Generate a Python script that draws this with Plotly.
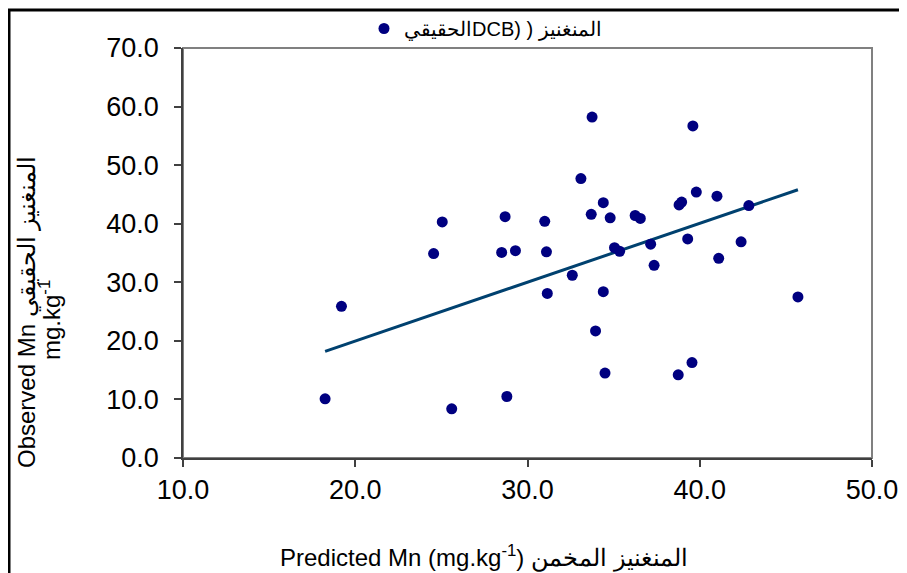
import plotly.graph_objects as go

# Observed vs predicted Mn values
predicted = [18.25, 19.2, 25.05, 24.55, 25.6, 28.7, 28.5, 29.3, 28.8,
             33.75, 39.6, 33.1, 34.4, 31.0, 33.7, 34.8, 36.25, 36.55, 38.8,
             38.95, 39.8, 41.0, 42.85, 31.1, 32.6, 35.05, 35.35, 37.15, 37.35,
             39.3, 41.1, 42.4, 31.15, 34.4, 45.7, 33.95, 34.5, 38.75, 39.55]
observed = [10.1, 25.9, 40.3, 34.9, 8.4, 41.2, 35.1, 35.4, 10.5,
            58.2, 56.7, 47.7, 43.6, 40.4, 41.6, 41.0, 41.4, 40.9, 43.2,
            43.7, 45.4, 44.7, 43.1, 35.2, 31.2, 35.9, 35.3, 36.5, 32.9,
            37.4, 34.1, 36.9, 28.1, 28.4, 27.5, 21.7, 14.5, 14.2, 16.3]

trend_x = [18.25, 45.7]
trend_y = [18.2, 45.8]

# RLM + RLE ... PDF: label laid out right-to-left as in the original
legend_name = "\u200f\u202bالمنغنيز ( (DCBالحقيقي\u202c"
x_title = "Predicted Mn (mg.kg<sup>-1</sup>\u200e) المنغنيز المخمن"
y_title_1 = "Observed Mn المنغنيز الحقيقي"
y_title_2 = "mg.kg<sup>-1</sup>"

# page body has an 8px margin: figure coordinates = window coordinates - 8
OFF = 8
W, H = 907 - OFF, 573 - OFF
L, R, T, B = 183 - OFF, 872 - OFF, 48 - OFF, 458 - OFF


def px(xw):
    return (xw - OFF - L) / (R - L)


def py(yw):
    return (B - (yw - OFF)) / (B - T)


FONT = "Liberation Sans, Arial, sans-serif"

fig = go.Figure()
fig.add_trace(go.Scatter(
    x=trend_x, y=trend_y, mode="lines",
    line=dict(color="#00416f", width=3), showlegend=False, hoverinfo="skip"))
fig.add_trace(go.Scatter(
    x=predicted, y=observed, mode="markers", name=legend_name,
    marker=dict(color="#000080", size=11, line=dict(width=0))))

fig.update_layout(
    width=W, height=H,
    margin=dict(l=L, r=W - R, t=T, b=H - B, autoexpand=False),
    paper_bgcolor="white", plot_bgcolor="white",
    font=dict(family=FONT, color="black"),
    legend=dict(orientation="h", x=px(364), y=py(9), xanchor="left", yanchor="top",
                itemwidth=30,
                font=dict(size=20, family=FONT), bgcolor="rgba(0,0,0,0)"),
    xaxis=dict(range=[10, 50], dtick=10, tick0=10, tickformat=".1f",
               showgrid=False, zeroline=False, showline=True, linecolor="#404040", linewidth=1.5,
               ticks="outside", ticklen=7, tickcolor="#404040", tickwidth=1.5,
               tickfont=dict(size=27, family=FONT, color="black")),
    yaxis=dict(range=[0, 70], dtick=10, tick0=0, tickformat=".1f",
               showgrid=False, zeroline=False, showline=True, linecolor="#404040", linewidth=1.5,
               ticks="outside", ticklen=7, tickcolor="#404040", tickwidth=1.5,
               ticklabelstandoff=10,
               tickfont=dict(size=27, family=FONT, color="black")),
    shapes=[
        dict(type="rect", xref="paper", yref="paper", x0=0, x1=1, y0=0, y1=1,
             line=dict(color="#808080", width=2), layer="below"),
        dict(type="rect", xref="paper", yref="paper", x0=px(9), x1=px(925), y0=py(600), y1=py(10),
             line=dict(color="black", width=3)),
    ],
    annotations=[
        dict(text=x_title, xref="paper", yref="paper", x=px(484), y=py(556),
             xanchor="center", yanchor="middle", showarrow=False,
             font=dict(size=24, family=FONT, color="black")),
        dict(text=y_title_1, xref="paper", yref="paper", x=px(27), y=py(312),
             xanchor="center", yanchor="middle", showarrow=False, textangle=-90,
             font=dict(size=24, family=FONT, color="black")),
        dict(text=y_title_2, xref="paper", yref="paper", x=px(50), y=py(320),
             xanchor="center", yanchor="middle", showarrow=False, textangle=-90,
             font=dict(size=24, family=FONT, color="black")),
    ],
)

fig.write_html("out.html")
